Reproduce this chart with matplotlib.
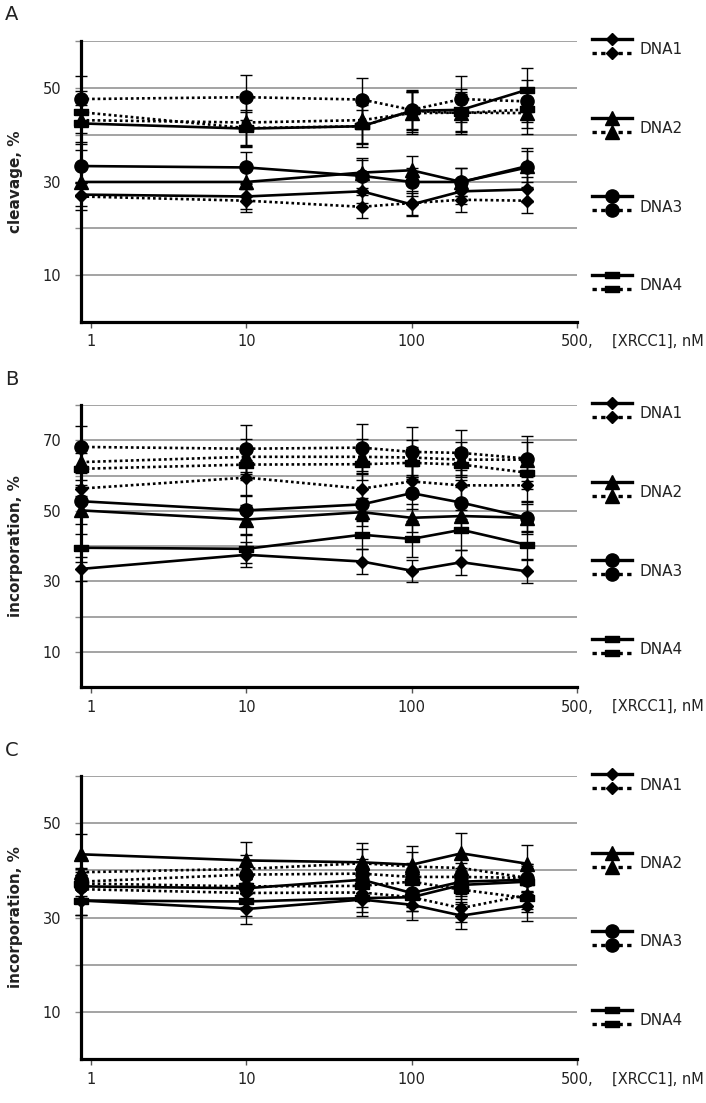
"""Three panels: cleavage / incorporation vs [XRCC1] for DNA1-4 (solid and dotted series)."""
import numpy as np
import matplotlib
matplotlib.use("Agg")
import matplotlib.pyplot as plt
from matplotlib.lines import Line2D

plt.rcParams["font.family"] = ["DejaVu Sans"]

# x values (nM)
conc = [1, 10, 50, 100, 200, 500]
tick_labels = ["1", "10", "100", "500,"]
dna_names = ["DNA1", "DNA2", "DNA3", "DNA4"]

# panel A: cleavage, %   rows = DNA1..DNA4
a_solid = [[27.2, 26.8, 27.9, 25.1, 27.9, 28.3],
           [29.9, 29.9, 31.9, 32.4, 29.9, 33.3],
           [33.3, 33.0, 31.2, 29.9, 29.9, 33.0],
           [42.4, 41.3, 41.8, 45.1, 45.3, 49.6]]
a_solid_err = [[2.5, 2.7, 2.5, 2.5, 2.7, 2.7],
               [3.0, 3.0, 3.2, 3.1, 3.0, 3.3],
               [3.5, 3.3, 3.4, 3.0, 3.0, 4.2],
               [4.0, 4.0, 4.5, 4.5, 4.5, 4.7]]
a_dot = [[26.8, 25.9, 24.6, 25.4, 26.1, 25.9],
         [43.1, 42.6, 43.1, 44.6, 44.7, 44.6],
         [47.6, 48.0, 47.5, 45.3, 47.6, 47.1],
         [44.8, 41.4, 41.8, 45.1, 44.6, 45.4]]
a_dot_err = [[2.8, 2.5, 2.5, 2.5, 2.7, 2.7],
             [5.0, 5.0, 5.0, 4.5, 4.5, 4.5],
             [4.9, 4.8, 4.7, 4.0, 4.9, 4.5],
             [4.5, 3.5, 3.5, 4.0, 4.0, 4.0]]

# panel B: incorporation, %
b_solid = [[33.5, 37.5, 35.6, 33.0, 35.4, 32.8],
           [50.1, 47.5, 49.6, 48.0, 48.5, 48.0],
           [52.7, 50.1, 51.8, 55.0, 52.3, 48.0],
           [39.5, 39.2, 43.2, 42.0, 44.6, 40.3]]
b_solid_err = [[3.5, 3.5, 3.5, 3.1, 3.5, 3.3],
               [4.0, 4.0, 4.0, 4.0, 4.0, 4.0],
               [4.0, 4.0, 4.5, 4.5, 4.5, 4.5],
               [4.0, 4.0, 4.0, 5.2, 5.7, 4.0]]
b_dot = [[56.3, 59.4, 56.3, 58.3, 57.2, 57.2],
         [63.8, 65.3, 65.3, 65.1, 64.5, 64.5],
         [68.1, 67.6, 67.9, 66.7, 66.4, 64.8],
         [61.9, 63.1, 63.2, 63.6, 63.1, 60.8]]
b_dot_err = [[4.5, 5.0, 4.5, 4.5, 4.5, 4.5],
             [5.0, 5.0, 5.0, 5.0, 5.0, 5.0],
             [6.0, 6.6, 6.7, 7.0, 6.4, 6.3],
             [4.5, 4.5, 4.5, 4.5, 4.5, 4.5]]

# panel C: incorporation, %
c_solid = [[33.6, 31.8, 33.8, 32.7, 30.4, 32.5],
           [43.4, 42.1, 41.7, 41.2, 43.6, 41.4],
           [36.6, 36.2, 38.0, 35.2, 37.6, 38.0],
           [33.6, 33.4, 34.1, 34.3, 36.9, 37.6]]
c_solid_err = [[3.0, 3.2, 3.5, 3.2, 2.8, 3.2],
               [4.3, 4.0, 4.0, 3.9, 4.4, 4.0],
               [3.0, 3.0, 3.0, 3.0, 3.0, 3.0],
               [3.0, 3.0, 3.0, 3.0, 3.0, 3.0]]
c_dot = [[36.0, 35.2, 35.3, 34.3, 32.0, 34.8],
         [39.6, 40.3, 41.5, 40.8, 40.5, 38.4],
         [37.6, 39.1, 39.3, 38.6, 38.6, 38.4],
         [37.2, 36.6, 36.7, 37.6, 35.9, 34.1]]
c_dot_err = [[3.0, 3.0, 3.0, 3.0, 3.0, 3.0],
             [3.0, 3.0, 3.0, 3.0, 3.0, 3.0],
             [3.0, 3.0, 3.0, 3.0, 3.0, 3.0],
             [3.0, 3.0, 3.0, 3.0, 3.0, 3.0]]

BAR = [(-1, -0.42), (1, -0.42), (1, 0.42), (-1, 0.42), (-1, -0.42)]
MARKERS = [("D", 6.5), ("^", 9.5), ("o", 9.5), (BAR, 10)]
DOT = (0, (1.0, 1.1))
TXT = "#222222"
GRID = "#8a8a8a"

W, H = 706, 1103
panels = [
    ("A", "cleavage, %", 60, [10, 30, 50], 41, 322, a_solid, a_solid_err, a_dot, a_dot_err),
    ("B", "incorporation, %", 80, [10, 30, 50, 70], 405, 687, b_solid, b_solid_err, b_dot, b_dot_err),
    ("C", "incorporation, %", 60, [10, 30, 50], 776, 1059, c_solid, c_solid_err, c_dot, c_dot_err),
]

fig = plt.figure(figsize=(W / 100, H / 100), dpi=100)
x0, x1 = 81, 577

for letter, ylab, ytop, ylabs, top, bot, sol, sol_e, dot, dot_e in panels:
    ax = fig.add_axes([x0 / W, 1 - bot / H, (x1 - x0) / W, (bot - top) / H])
    ax.set_xscale("log")
    ax.set_xlim(1, 1000)
    ax.set_ylim(0, ytop)

    for i in range(4):
        mk, ms = MARKERS[i]
        for ys, es, ls in ((dot[i], dot_e[i], DOT), (sol[i], sol_e[i], "-")):
            ax.errorbar(conc, ys, yerr=es, color="black", ls=ls, lw=1.9,
                        marker=mk, ms=ms, mfc="black", mec="black",
                        elinewidth=1.0, capsize=4, capthick=1.0, clip_on=False, zorder=3)

    # grid / spines
    ax.set_yticks(range(10, ytop + 1, 10))
    ax.set_yticklabels([str(v) if v in ylabs else "" for v in range(10, ytop + 1, 10)])
    ax.yaxis.grid(True, color=GRID, lw=1.1)
    ax.set_axisbelow(True)
    for s in ("top", "right"):
        ax.spines[s].set_visible(False)
    ax.spines["left"].set_linewidth(2.3)
    ax.spines["bottom"].set_linewidth(2.3)
    ax.tick_params(axis="y", length=4, width=1.0, color=GRID, pad=10,
                   labelsize=10.5, labelcolor=TXT)
    ax.set_xticks([1.15, 10, 100, 1000])
    ax.set_xticklabels(tick_labels)
    ax.xaxis.set_minor_locator(plt.NullLocator())
    ax.tick_params(axis="x", length=4, width=1.0, color="#555555", pad=5,
                   labelsize=10.5, labelcolor=TXT)
    ax.set_ylabel(ylab, fontsize=11, fontweight="bold", color=TXT, labelpad=14)
    ax.text(1.07, -0.07, "[XRCC1], nM", transform=ax.transAxes, fontsize=10.5,
            color=TXT, va="center", ha="left")
    fig.text(5 / W, 1 - (top - 26) / H, letter, fontsize=14, color=TXT,
             va="center", ha="left")

    # hand-drawn legend at right
    hpx = bot - top
    for i, name in enumerate(dna_names):
        mk, ms = MARKERS[i]
        yo = -2 + 78.5 * i
        ys = 1 - yo / hpx
        yd = 1 - (yo + 14) / hpx
        ax.add_line(Line2D([1.030, 1.111], [ys, ys], transform=ax.transAxes, color="black",
                           lw=2.4, clip_on=False))
        ax.add_line(Line2D([1.0706], [ys], transform=ax.transAxes, color="black",
                           marker=mk, ms=ms, clip_on=False, ls="none"))
        ax.add_line(Line2D([1.030, 1.111], [yd, yd], transform=ax.transAxes, color="black",
                           lw=2.4, ls=(0, (1.3, 1.3)), clip_on=False))
        ax.add_line(Line2D([1.0706], [yd], transform=ax.transAxes, color="black",
                           marker=mk, ms=ms, clip_on=False, ls="none"))
        ax.text(1.127, 1 - (yo + 11) / hpx, name, transform=ax.transAxes,
                fontsize=11, color=TXT, va="center", ha="left")

fig.savefig("out.png", dpi=100)
